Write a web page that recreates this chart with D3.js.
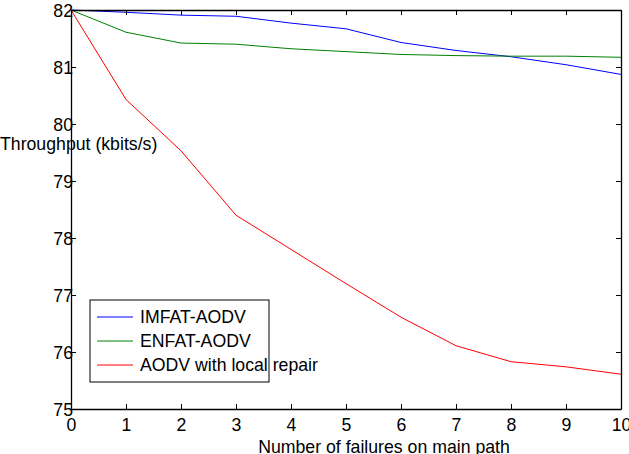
<!DOCTYPE html>
<html>
<head>
<meta charset="utf-8">
<script src="https://cdn.jsdelivr.net/npm/d3@7"></script>
<style>
  body { margin: 0; background: #fff; }
  svg { display: block; font-family: Arial, "Liberation Sans", sans-serif; }
  .axis text { font-size: 17.7px; fill: #000; }
  .axis path, .axis line { stroke: #000; }
</style>
</head>
<body>
<svg width="629" height="454"></svg>
<script>
// failures on main path
var failures = [0, 1, 2, 3, 4, 5, 6, 7, 8, 9, 10];

var imfat = [82, 81.96, 81.91, 81.89, 81.77, 81.67, 81.43, 81.29, 81.18, 81.04, 80.87];
var enfat = [82, 81.61, 81.42, 81.40, 81.32, 81.27, 81.22, 81.20, 81.19, 81.19, 81.17];
var aodvLocal = [82, 80.43, 79.53, 78.40, 77.80, 77.20, 76.61, 76.11, 75.83, 75.74, 75.61];

var seriesNames = ["IMFAT-AODV", "ENFAT-AODV", "AODV with local repair"];
var seriesColors = ["#0000ff", "#008000", "#ff0000"];

var xTicks = [0, 1, 2, 3, 4, 5, 6, 7, 8, 9, 10];
var yTicks = [75, 76, 77, 78, 79, 80, 81, 82];

var margin = {top: 10, right: 8, bottom: 45, left: 71},
    width = 629 - margin.left - margin.right,
    height = 454 - margin.top - margin.bottom;

var svg = d3.select("svg");

var x = d3.scaleLinear().domain([0, 10]).range([margin.left, margin.left + width]);
var y = d3.scaleLinear().domain([75, 82]).range([margin.top + height, margin.top]);

var series = [imfat, enfat, aodvLocal];

var line = d3.line()
    .x(function(d, i) { return x(failures[i]); })
    .y(function(d) { return y(d); });

// data lines
series.forEach(function(s, k) {
  svg.append("path")
      .datum(s)
      .attr("fill", "none")
      .attr("stroke", seriesColors[k])
      .attr("stroke-width", 1)
      .attr("d", line);
});

// axes, ticks pointing inward like matlab
var bottom = svg.append("g")
    .attr("class", "axis")
    .attr("transform", "translate(0," + y(75) + ")")
    .call(d3.axisBottom(x).tickValues(xTicks).tickSizeInner(-5).tickSizeOuter(0).tickFormat(d3.format("d")));
bottom.selectAll("text").attr("dy", null).attr("y", 22);

svg.append("g")
    .attr("class", "axis")
    .attr("transform", "translate(0," + y(82) + ")")
    .call(d3.axisTop(x).tickValues(xTicks).tickSizeInner(-5).tickSizeOuter(0).tickFormat(""));

var left = svg.append("g")
    .attr("class", "axis")
    .attr("transform", "translate(" + x(0) + ",0)")
    .call(d3.axisLeft(y).tickValues(yTicks).tickSizeInner(-5).tickSizeOuter(0).tickFormat(d3.format("d")));
left.selectAll("text").attr("x", 2).attr("dy", "0.36em");

svg.append("g")
    .attr("class", "axis")
    .attr("transform", "translate(" + x(10) + ",0)")
    .call(d3.axisRight(y).tickValues(yTicks).tickSizeInner(-5).tickSizeOuter(0).tickFormat(""));

svg.selectAll(".axis path").attr("stroke-width", 1.3);

// axis labels
svg.append("text")
    .attr("x", 0)
    .attr("y", 150)
    .style("font-size", "17.7px")
    .text("Throughput (kbits/s)");

svg.append("text")
    .attr("x", 384)
    .attr("y", 453)
    .attr("text-anchor", "middle")
    .style("font-size", "17.7px")
    .text("Number of failures on main path");

// legend
var legend = svg.append("g").attr("transform", "translate(90,300)");

legend.append("rect")
    .attr("width", 179)
    .attr("height", 82)
    .attr("fill", "#fff")
    .attr("stroke", "#000")
    .attr("stroke-width", 1);

seriesNames.forEach(function(name, k) {
  var ly = 17 + k * 24;
  legend.append("line")
      .attr("x1", 7).attr("x2", 43)
      .attr("y1", ly).attr("y2", ly)
      .attr("stroke", seriesColors[k]);
  legend.append("text")
      .attr("x", 50)
      .attr("y", ly + 6)
      .style("font-size", "17.7px")
      .text(name);
});
</script>
</body>
</html>
